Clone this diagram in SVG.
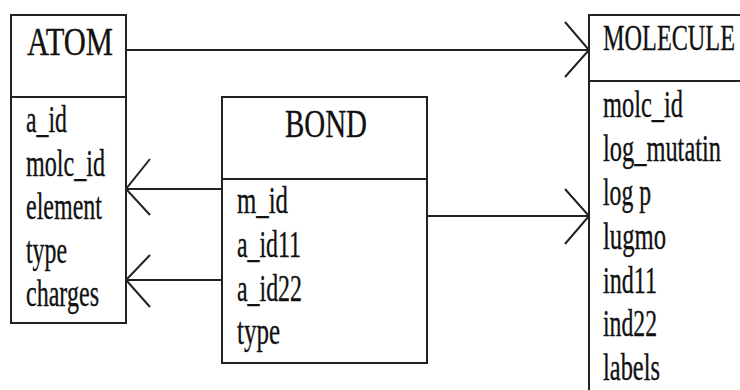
<svg xmlns="http://www.w3.org/2000/svg" width="740" height="390" viewBox="0 0 740 390">
  <style>
    .box { fill: #ffffff; stroke: #222222; stroke-width: 2; }
    .div { stroke: #222222; stroke-width: 2; }
    text { font-family: "Liberation Serif", "Times New Roman", serif; fill: #111111; stroke: #111111; stroke-width: 0.35; }
    .title { font-size: 40px; }
    .attr { font-size: 37px; }
    .link { fill: none; stroke: #222222; stroke-width: 2; }
  </style>
  <rect width="740" height="390" fill="#ffffff"/>

  <!-- relationship lines with open crow-style heads -->
  <g id="connectors">
    <path class="link" d="M126,50 H589 M565,22 L589,50 L565,77"/>
    <path class="link" d="M222,189 H126 M150,159 L126,189 L150,215"/>
    <path class="link" d="M222,280 H126 M150,255 L126,280 L150,307"/>
    <path class="link" d="M427,216 H589 M565,189 L589,216 L565,244"/>
  </g>

  <g id="atom">
    <rect class="box" x="11" y="15" width="115" height="308"/>
    <line class="div" x1="11" y1="97" x2="126" y2="97"/>
    <text class="title" x="27" y="55" textLength="86" lengthAdjust="spacingAndGlyphs">ATOM</text>
    <text class="attr" x="26" y="132" textLength="41" lengthAdjust="spacingAndGlyphs">a_id</text>
    <text class="attr" x="26" y="175.5" textLength="79" lengthAdjust="spacingAndGlyphs">molc_id</text>
    <text class="attr" x="26" y="219" textLength="76" lengthAdjust="spacingAndGlyphs">element</text>
    <text class="attr" x="26" y="262.5" textLength="41" lengthAdjust="spacingAndGlyphs">type</text>
    <text class="attr" x="26" y="306" textLength="73" lengthAdjust="spacingAndGlyphs">charges</text>
  </g>

  <g id="bond">
    <rect class="box" x="222" y="97" width="205" height="266"/>
    <line class="div" x1="222" y1="179" x2="427" y2="179"/>
    <text class="title" x="285" y="137" textLength="82" lengthAdjust="spacingAndGlyphs">BOND</text>
    <text class="attr" x="237" y="213" textLength="51" lengthAdjust="spacingAndGlyphs">m_id</text>
    <text class="attr" x="237" y="257" textLength="64" lengthAdjust="spacingAndGlyphs">a_id11</text>
    <text class="attr" x="237" y="300.5" textLength="65" lengthAdjust="spacingAndGlyphs">a_id22</text>
    <text class="attr" x="237" y="344" textLength="43" lengthAdjust="spacingAndGlyphs">type</text>
  </g>

  <g id="molecule">
    <rect class="box" x="589" y="15" width="180" height="400"/>
    <line class="div" x1="589" y1="81" x2="769" y2="81"/>
    <text class="title" x="603" y="50" style="font-size:35px" textLength="132" lengthAdjust="spacingAndGlyphs">MOLECULE</text>
    <text class="attr" x="603" y="117" textLength="80" lengthAdjust="spacingAndGlyphs">molc_id</text>
    <text class="attr" x="603" y="161" textLength="118" lengthAdjust="spacingAndGlyphs">log_mutatin</text>
    <text class="attr" x="603" y="204.5" textLength="48" lengthAdjust="spacingAndGlyphs">log p</text>
    <text class="attr" x="603" y="248.5" textLength="63" lengthAdjust="spacingAndGlyphs">lugmo</text>
    <text class="attr" x="603" y="292.5" textLength="54" lengthAdjust="spacingAndGlyphs">ind11</text>
    <text class="attr" x="603" y="336" textLength="54" lengthAdjust="spacingAndGlyphs">ind22</text>
    <text class="attr" x="603" y="380" textLength="57" lengthAdjust="spacingAndGlyphs">labels</text>
  </g>
</svg>
